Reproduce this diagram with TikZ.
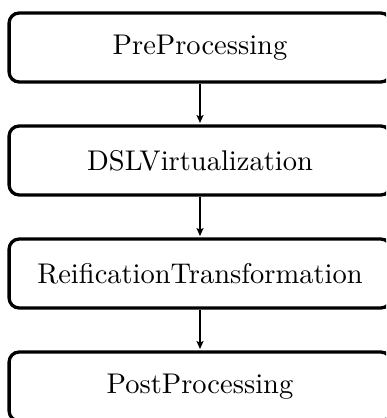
\documentclass[tikz,border=0pt]{standalone}
\usetikzlibrary{arrows.meta}
\begin{document}
\begin{tikzpicture}[
  x=0.351pt, y=-0.351pt,
  stage/.style={draw, line width=1.15pt, rounded corners=3.5pt,
    minimum width=134pt, minimum height=24.2pt, inner sep=0pt},
  flow/.style={-{Stealth[length=2.8pt, width=2.5pt, inset=0.6pt]},
    line width=0.45pt, shorten >=0.5pt}
]
\useasboundingbox (0,0) rectangle (386,418);
\clip (0,0) rectangle (386,418);

% pipeline stages, top to bottom
\node[stage] (pre)  at (200,47.5)  {PreProcessing};
\node[stage] (dsl)  at (200,160.5) {DSLVirtualization};
\node[stage] (reif) at (200,273.5) {ReificationTransformation};
\node[stage] (post) at (200,386.5) {PostProcessing};

% flow between stages
\draw[flow] (pre)  -- (dsl);
\draw[flow] (dsl)  -- (reif);
\draw[flow] (reif) -- (post);
\end{tikzpicture}
\end{document}
